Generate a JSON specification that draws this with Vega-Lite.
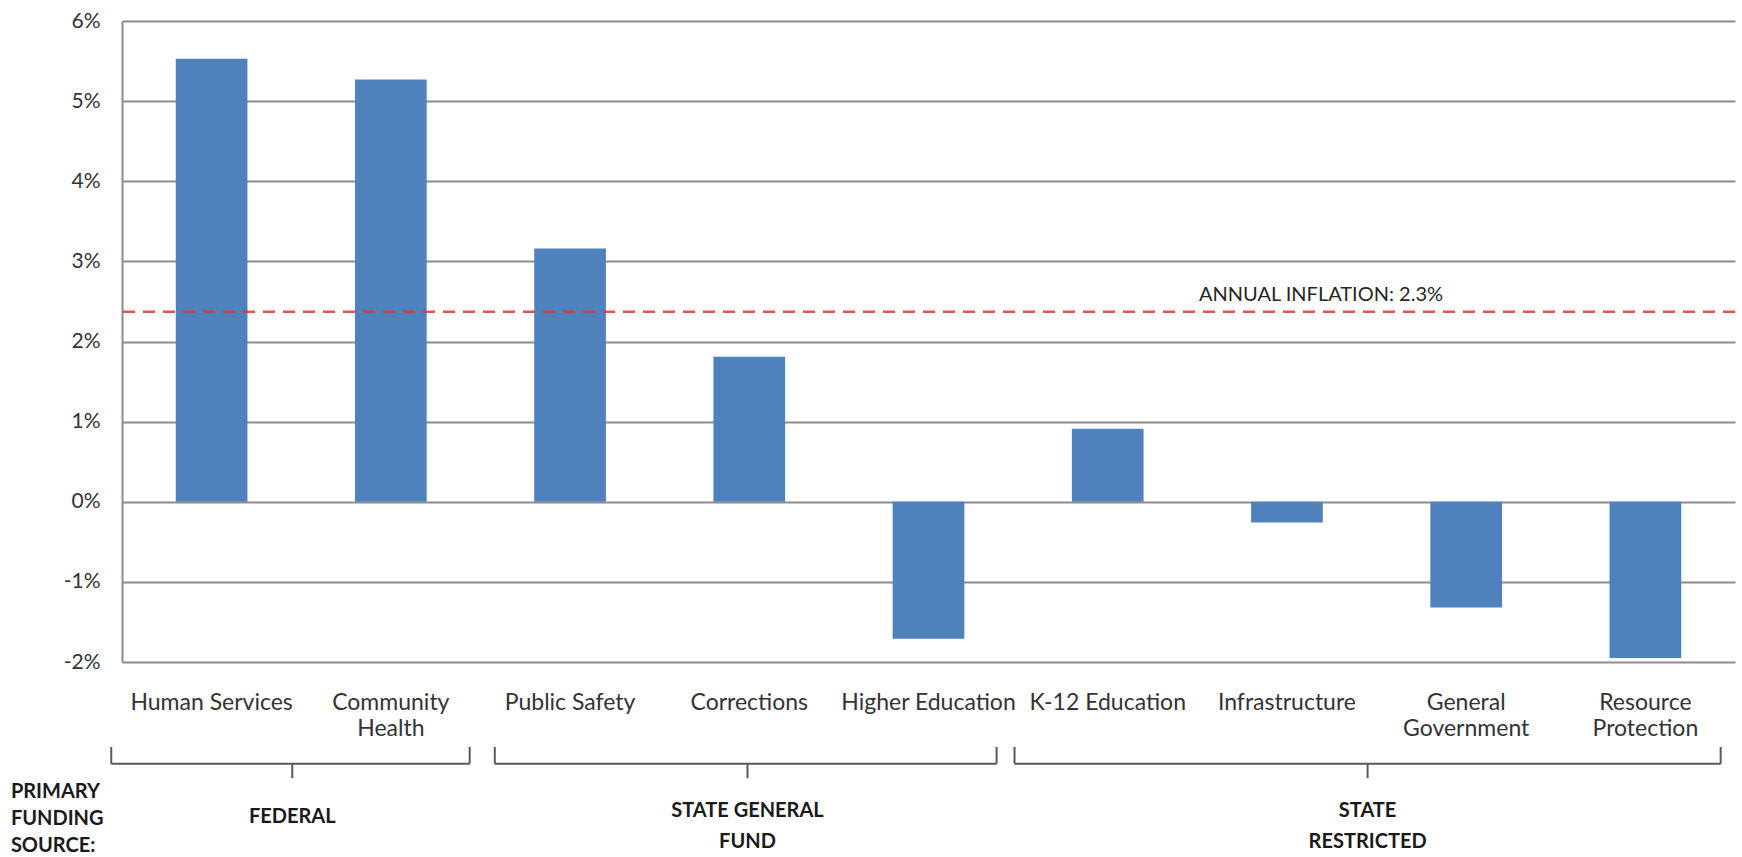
{
  "$schema": "https://vega.github.io/schema/vega-lite/v6.json",
  "width": 1613,
  "height": 641,
  "autosize": {"type": "none"},
  "padding": {"left": 122, "top": 21, "right": 7, "bottom": 195},
  "background": "white",
  "config": {
    "font": "Lato",
    "view": {"stroke": null},
    "axis": {"labelFont": "Lato", "labelColor": "#333333", "titleFont": "Lato"}
  },
  "datasets": {
    "spending": [
      {"category": "Human Services", "change": 5.53},
      {"category": "Community Health", "change": 5.27},
      {"category": "Public Safety", "change": 3.16},
      {"category": "Corrections", "change": 1.81},
      {"category": "Higher Education", "change": -1.71},
      {"category": "K-12 Education", "change": 0.91},
      {"category": "Infrastructure", "change": -0.26},
      {"category": "General Government", "change": -1.32},
      {"category": "Resource Protection", "change": -1.95}
    ],
    "groups": [
      {"label": "FEDERAL", "start": -0.06, "end": 1.94, "mid": 0.95},
      {"label": "STATE GENERAL\nFUND", "start": 2.08, "end": 4.88, "mid": 3.49},
      {"label": "STATE\nRESTRICTED", "start": 4.98, "end": 8.92, "mid": 6.95}
    ],
    "inflation": [
      {"value": 2.37, "label": "ANNUAL INFLATION: 2.3%"}
    ],
    "heading": [
      {"label": "PRIMARY\nFUNDING\nSOURCE:"}
    ]
  },
  "layer": [
    {
      "data": {"name": "spending"},
      "mark": {"type": "bar", "color": "#4F81BD"},
      "encoding": {
        "x": {
          "field": "category",
          "type": "nominal",
          "sort": null,
          "scale": {"paddingInner": 0.6, "paddingOuter": 0.3},
          "axis": {
            "title": null,
            "domain": false,
            "ticks": false,
            "labelAngle": 0,
            "labelFontSize": 23,
            "labelPadding": 29,
            "labelLineHeight": 26,
            "labelOverlap": false,
            "labelLimit": 400,
            "labelExpr": "indexof(['Community Health','General Government','Resource Protection'], datum.value) >= 0 ? split(datum.value, ' ') : datum.value"
          }
        },
        "y": {
          "field": "change",
          "type": "quantitative",
          "title": null,
          "scale": {"domain": [-2, 6], "nice": false, "zero": false},
          "axis": {
            "title": null,
            "values": [-2, -1, 0, 1, 2, 3, 4, 5, 6],
            "labelExpr": "datum.value + '%'",
            "labelFontSize": 21,
            "labelPadding": 22,
            "ticks": false,
            "domain": true,
            "domainColor": "#8C8C8C",
            "domainWidth": 2,
            "grid": true,
            "gridColor": "#8C8C8C",
            "gridWidth": 2
          }
        }
      }
    },
    {
      "data": {"name": "inflation"},
      "mark": {"type": "rule", "color": "#D63A3A", "strokeWidth": 2.5, "strokeDash": [12, 8], "opacity": 0.85},
      "encoding": {
        "y": {"field": "value", "type": "quantitative", "title": null}
      }
    },
    {
      "data": {"name": "inflation"},
      "mark": {"type": "text", "fontSize": 20, "color": "#262626", "align": "center", "baseline": "middle", "dy": -17},
      "encoding": {
        "x": {"datum": 6.69, "type": "quantitative", "scale": {"domain": [0, 9], "nice": false, "zero": false}, "axis": null},
        "y": {"field": "value", "type": "quantitative", "title": null},
        "text": {"field": "label"}
      }
    },
    {
      "data": {"name": "groups"},
      "mark": {"type": "rule", "color": "#595959", "strokeWidth": 2},
      "encoding": {
        "x": {"field": "start", "type": "quantitative", "scale": {"domain": [0, 9], "nice": false, "zero": false}, "axis": null},
        "x2": {"field": "end"},
        "y": {"datum": -3.27, "type": "quantitative", "title": null}
      }
    },
    {
      "data": {"name": "groups"},
      "mark": {"type": "rule", "color": "#595959", "strokeWidth": 2},
      "encoding": {
        "x": {"field": "start", "type": "quantitative", "scale": {"domain": [0, 9], "nice": false, "zero": false}, "axis": null},
        "y": {"datum": -3.06, "type": "quantitative", "title": null},
        "y2": {"datum": -3.27}
      }
    },
    {
      "data": {"name": "groups"},
      "mark": {"type": "rule", "color": "#595959", "strokeWidth": 2},
      "encoding": {
        "x": {"field": "end", "type": "quantitative", "scale": {"domain": [0, 9], "nice": false, "zero": false}, "axis": null},
        "y": {"datum": -3.06, "type": "quantitative", "title": null},
        "y2": {"datum": -3.27}
      }
    },
    {
      "data": {"name": "groups"},
      "mark": {"type": "rule", "color": "#595959", "strokeWidth": 2},
      "encoding": {
        "x": {"field": "mid", "type": "quantitative", "scale": {"domain": [0, 9], "nice": false, "zero": false}, "axis": null},
        "y": {"datum": -3.27, "type": "quantitative", "title": null},
        "y2": {"datum": -3.45}
      }
    },
    {
      "data": {"name": "groups"},
      "transform": [{"filter": "datum.label != 'FEDERAL'"}],
      "mark": {"type": "text", "fontSize": 20, "fontWeight": "bold", "color": "#1A1A1A", "align": "center", "baseline": "middle", "lineBreak": "\n", "lineHeight": 31},
      "encoding": {
        "x": {"field": "mid", "type": "quantitative", "scale": {"domain": [0, 9], "nice": false, "zero": false}, "axis": null},
        "y": {"datum": -3.86, "type": "quantitative", "title": null},
        "text": {"field": "label"}
      }
    },
    {
      "data": {"name": "groups"},
      "transform": [{"filter": "datum.label == 'FEDERAL'"}],
      "mark": {"type": "text", "fontSize": 20, "fontWeight": "bold", "color": "#1A1A1A", "align": "center", "baseline": "middle"},
      "encoding": {
        "x": {"field": "mid", "type": "quantitative", "scale": {"domain": [0, 9], "nice": false, "zero": false}, "axis": null},
        "y": {"datum": -3.93, "type": "quantitative", "title": null},
        "text": {"field": "label"}
      }
    },
    {
      "data": {"name": "heading"},
      "mark": {"type": "text", "fontSize": 20, "fontWeight": "bold", "color": "#1A1A1A", "align": "left", "baseline": "middle", "lineBreak": "\n", "lineHeight": 27},
      "encoding": {
        "x": {"datum": -0.62, "type": "quantitative", "scale": {"domain": [0, 9], "nice": false, "zero": false}, "axis": null},
        "y": {"datum": -3.62, "type": "quantitative", "title": null},
        "text": {"field": "label"}
      }
    }
  ],
  "resolve": {"scale": {"x": "independent"}}
}
